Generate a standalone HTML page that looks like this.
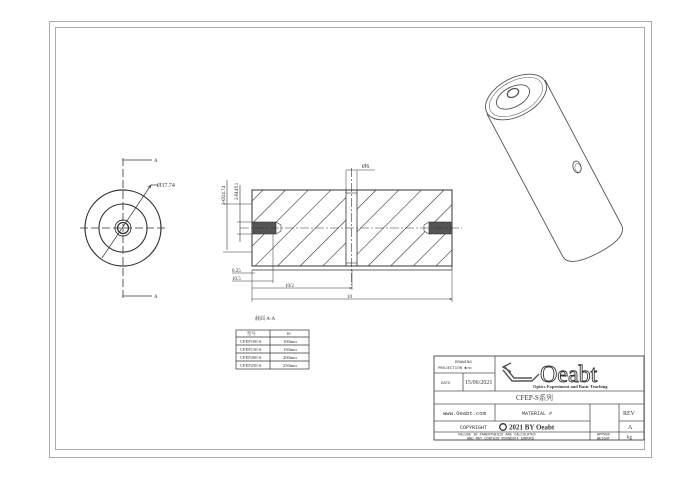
<!DOCTYPE html>
<html><head><meta charset="utf-8"><style>
html,body{margin:0;padding:0;background:#fff}
svg{display:block}
text{font-family:"Liberation Serif","Noto Serif CJK SC",serif;fill:#333}
.m{font-family:"Liberation Mono",monospace}
</style></head><body>
<svg width="700" height="478" viewBox="0 0 700 478" xmlns="http://www.w3.org/2000/svg">
<defs>
<pattern id="hp" width="16" height="16" patternUnits="userSpaceOnUse" patternTransform="rotate(45)"><line x1="0" y1="0" x2="0" y2="16" stroke="#333" stroke-width="1.2"/></pattern>
<marker id="ar" markerWidth="6" markerHeight="6" refX="5" refY="3" orient="auto"><path d="M0,1L5,3L0,5" fill="none" stroke="#333" stroke-width="0.8"/></marker>
</defs>
<rect x="49.5" y="21.5" width="602" height="436" fill="none" stroke="#aaa" stroke-width="1"/>
<rect x="55.5" y="27.5" width="589" height="422" fill="none" stroke="#aaa" stroke-width="1"/>

<!-- left view -->
<g stroke="#333" fill="none">
<circle cx="123" cy="228" r="38" stroke-width="1.2"/>
<circle cx="123" cy="228" r="24" stroke-width="1.1"/>
<circle cx="123" cy="228" r="8" stroke-width="0.9"/>
<circle cx="123" cy="228" r="5.5" stroke-width="1.3"/>
<line x1="123" y1="158" x2="123" y2="298" stroke-dasharray="8,3" stroke-width="0.8"/>
<line x1="80" y1="228" x2="166" y2="228" stroke-dasharray="8,3" stroke-width="0.8"/>
<polyline points="123,160 152,160" stroke-width="0.8"/>
<polyline points="123,296 152,296" stroke-width="0.8"/>
<line x1="102" y1="258" x2="151" y2="185" stroke-width="0.7" marker-end="url(#ar)"/>
<line x1="151" y1="185" x2="158" y2="185" stroke-width="0.7"/>
</g>
<text x="154" y="162" font-size="5">A</text>
<text x="154" y="298" font-size="5">A</text>
<text x="157" y="187" font-size="6">Ø37.74</text>

<!-- section view -->
<path d="M252,190H346V266H252Z M357,190H452V266H357Z" fill="url(#hp)" stroke="none"/>
<g stroke="#333" fill="none">
<rect x="252" y="190" width="200" height="76" stroke-width="1"/>
<line x1="346" y1="190" x2="346" y2="266" stroke-width="0.8"/>
<line x1="357" y1="190" x2="357" y2="266" stroke-width="0.8"/>
<line x1="346" y1="193" x2="357" y2="193" stroke-width="0.6"/>
<line x1="346" y1="263" x2="357" y2="263" stroke-width="0.6"/>
<line x1="252" y1="270" x2="452" y2="270" stroke-width="0.7"/>
<line x1="452" y1="266" x2="452" y2="270" stroke-width="0.7"/>
<path d="M253,222 L276,222 L281,225 L281,231 L276,234 L253,234Z" fill="#fff" stroke="none"/>
<path d="M451,222 L429,222 L424,225 L424,231 L429,234 L451,234Z" fill="#fff" stroke="none"/>
<rect x="253" y="222" width="23" height="12" fill="#555" stroke-width="0.6"/>
<path d="M276,222 L281,225 L281,231 L276,234" stroke-width="0.6"/>
<rect x="429" y="222" width="22" height="12" fill="#555" stroke-width="0.6"/>
<path d="M429,222 L424,225 L424,231 L429,234" stroke-width="0.6"/>
<line x1="240" y1="228" x2="462" y2="228" stroke-dasharray="9,2,2,2" stroke-width="0.6"/>
<line x1="351.5" y1="168" x2="351.5" y2="285" stroke-dasharray="9,2,2,2" stroke-width="0.6"/>
<line x1="346" y1="170" x2="346" y2="190" stroke-width="0.5"/>
<line x1="357" y1="170" x2="357" y2="190" stroke-width="0.5"/>
<line x1="346" y1="170" x2="375" y2="170" stroke-width="0.5"/>
<line x1="227" y1="180" x2="227" y2="250" stroke-width="0.6"/>
<line x1="223" y1="204" x2="252" y2="204" stroke-width="0.5"/>
<line x1="223" y1="252" x2="252" y2="252" stroke-width="0.5"/>
<line x1="240" y1="185" x2="240" y2="242" stroke-width="0.6"/>
<line x1="237" y1="222" x2="252" y2="222" stroke-width="0.5"/>
<line x1="237" y1="234" x2="252" y2="234" stroke-width="0.5"/>
<line x1="232" y1="273" x2="255" y2="273" stroke-width="0.5"/>
<line x1="232" y1="281" x2="273" y2="281" stroke-width="0.5"/>
<line x1="273" y1="234" x2="273" y2="283" stroke-width="0.5"/>
<line x1="252" y1="270" x2="252" y2="302" stroke-width="0.5"/>
<line x1="252" y1="288" x2="352" y2="288" stroke-width="0.5" marker-end="url(#ar)"/>
<line x1="352" y1="270" x2="352" y2="290" stroke-width="0.5"/>
<line x1="452" y1="270" x2="452" y2="302" stroke-width="0.5"/>
<line x1="252" y1="299" x2="452" y2="299" stroke-width="0.5" marker-end="url(#ar)"/>
</g>
<text x="362" y="168" font-size="6">Ø6</text>
<text transform="translate(225,205) rotate(-90)" font-size="5">3-Ø24.74</text>
<text transform="translate(238,200) rotate(-90)" font-size="5">2-M4X1</text>
<text x="232" y="272" font-size="5">0.25</text>
<text x="232" y="280" font-size="5">10.5</text>
<text x="285" y="287" font-size="5">10/2</text>
<text x="347" y="298" font-size="5">10</text>
<text x="255" y="320" font-size="5">截面 A-A</text>

<!-- table -->
<g stroke="#333" fill="none" stroke-width="0.7">
<rect x="236" y="330" width="73" height="39"/>
<line x1="270" y1="330" x2="270" y2="369"/>
<line x1="236" y1="337" x2="309" y2="337"/>
<line x1="236" y1="345" x2="309" y2="345"/>
<line x1="236" y1="353" x2="309" y2="353"/>
<line x1="236" y1="361" x2="309" y2="361"/>
</g>
<g font-size="4.5">
<text x="247" y="335">型号</text><text x="286" y="335">10</text>
<text x="240" y="343">CFEP100-S</text><text x="283" y="343">100mm</text>
<text x="240" y="351">CFEP150-S</text><text x="283" y="351">150mm</text>
<text x="240" y="359">CFEP200-S</text><text x="283" y="359">200mm</text>
<text x="240" y="367">CFEP250-S</text><text x="283" y="367">250mm</text>
</g>

<!-- isometric -->
<g stroke="#555" fill="none" stroke-width="0.9">
<line x1="487" y1="114" x2="563" y2="257"/>
<line x1="545" y1="80" x2="622" y2="226"/>
<path d="M563,257 Q570,268 600,252 Q626,238 622,226"/>
<ellipse cx="516" cy="97" rx="33" ry="19" transform="rotate(-28 516 97)"/>
<ellipse cx="516" cy="97" rx="29" ry="16" transform="rotate(-28 516 97)" stroke-width="0.5"/>
<ellipse cx="513" cy="97" rx="18" ry="10" transform="rotate(-28 513 97)"/>
<ellipse cx="513" cy="93" rx="6" ry="4" transform="rotate(-28 513 93)" stroke-width="1.3"/>
<ellipse cx="577" cy="167" rx="4" ry="6" transform="rotate(-15 577 167)"/>
<ellipse cx="578" cy="168" rx="3" ry="4.5" transform="rotate(-15 578 168)" stroke-width="0.5"/>
</g>

<!-- title block -->
<g stroke="#555" fill="none" stroke-width="0.8">
<rect x="434" y="356" width="210" height="84" stroke-width="1"/>
<line x1="495" y1="356" x2="495" y2="391"/>
<line x1="434" y1="373" x2="495" y2="373"/>
<line x1="463" y1="373" x2="463" y2="391"/>
<line x1="434" y1="391" x2="644" y2="391"/>
<line x1="434" y1="404" x2="644" y2="404"/>
<line x1="434" y1="421" x2="590" y2="421"/>
<line x1="619" y1="421" x2="644" y2="421"/>
<line x1="434" y1="432" x2="644" y2="432"/>
<line x1="495" y1="404" x2="495" y2="421"/>
<line x1="590" y1="404" x2="590" y2="440"/>
<line x1="619" y1="404" x2="619" y2="440"/>
<path d="M503,370 L512,381 L532,381 L539,374 M505,367 L514,378 L532,378 M511,363 L503,367 L511,372" stroke-width="1.4"/>
</g>
<text x="540" y="382" font-size="24" font-family="Liberation Sans,sans-serif" style="fill:none" stroke="#333" stroke-width="0.9">Oeabt</text>
<text x="533" y="388" font-size="4.5" font-family="Liberation Sans,sans-serif" font-weight="bold">Optics Experiment and Basic Teaching</text>
<text x="455" y="363" class="m" font-size="4">DRAWING</text>
<text x="438" y="369" class="m" font-size="4">PROJECTION ◆◁▭</text>
<text x="441" y="384" class="m" font-size="4">DATE</text>
<text x="465" y="384" font-size="6">15/06/2021</text>
<text x="516" y="400" font-size="7">CFEP-S系列</text>
<text x="443" y="415" font-size="5.5" class="m">www.Oeabt.com</text>
<text x="522" y="415" font-size="5" class="m">MATERIAL #</text>
<text x="623" y="415" font-size="6">REV</text>
<text x="460" y="429" font-size="5" class="m">COPYRIGHT</text>
<circle cx="503" cy="427" r="3.3" fill="none" stroke="#333" stroke-width="1.3"/>
<text x="509" y="429.5" font-size="7" font-weight="bold">2021 BY Oeabt</text>
<text x="628" y="429" font-size="6">A</text>
<text x="458" y="435.5" class="m" font-size="3.6">VALUSE IN PARENTHESIS ARE CALCULATED</text>
<text x="467" y="439.5" class="m" font-size="3.6">AND MAY CONTAIN ROUNDOFF ERRORS</text>
<text x="597" y="435.5" class="m" font-size="3.6">APPROX</text>
<text x="597" y="439.5" class="m" font-size="3.6">WEIGHT</text>
<text x="627" y="438.5" font-size="5">kg</text>
</svg>
</body></html>
